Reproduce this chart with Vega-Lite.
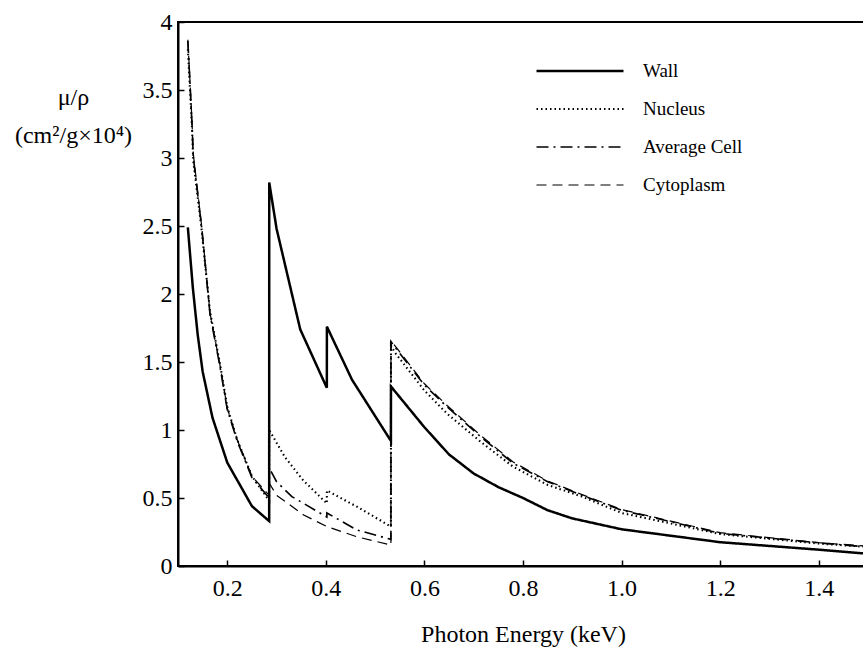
{
  "$schema": "https://vega.github.io/schema/vega-lite/v6.json",
  "autosize": {"type": "none"},
  "padding": {"left": 178, "top": 22, "right": 0, "bottom": 82},
  "width": 690,
  "height": 544,
  "background": "white",
  "config": {
    "view": {"stroke": "black", "strokeWidth": 2},
    "font": "Liberation Serif",
    "axis": {
      "grid": false,
      "domainColor": "black",
      "domainWidth": 2,
      "tickColor": "black",
      "tickWidth": 1.5,
      "tickSize": -6,
      "labelColor": "black",
      "labelFont": "Liberation Serif",
      "labelFontSize": 24,
      "titleColor": "black",
      "titleFont": "Liberation Serif",
      "titleFontSize": 24,
      "titleFontWeight": "normal"
    },
    "legend": {
      "labelFont": "Liberation Serif",
      "labelFontSize": 19,
      "labelColor": "black"
    }
  },
  "data": {
    "values": [
      {"E": 0.12, "mu": 2.49, "tissue": "Wall"},
      {"E": 0.13, "mu": 2.05, "tissue": "Wall"},
      {"E": 0.14, "mu": 1.7, "tissue": "Wall"},
      {"E": 0.15, "mu": 1.43, "tissue": "Wall"},
      {"E": 0.17, "mu": 1.09, "tissue": "Wall"},
      {"E": 0.2, "mu": 0.76, "tissue": "Wall"},
      {"E": 0.25, "mu": 0.44, "tissue": "Wall"},
      {"E": 0.285, "mu": 0.33, "tissue": "Wall"},
      {"E": 0.2851, "mu": 2.82, "tissue": "Wall"},
      {"E": 0.3, "mu": 2.48, "tissue": "Wall"},
      {"E": 0.348, "mu": 1.74, "tissue": "Wall"},
      {"E": 0.402, "mu": 1.31, "tissue": "Wall"},
      {"E": 0.4021, "mu": 1.76, "tissue": "Wall"},
      {"E": 0.453, "mu": 1.37, "tissue": "Wall"},
      {"E": 0.532, "mu": 0.92, "tissue": "Wall"},
      {"E": 0.5321, "mu": 1.32, "tissue": "Wall"},
      {"E": 0.6, "mu": 1.02, "tissue": "Wall"},
      {"E": 0.65, "mu": 0.82, "tissue": "Wall"},
      {"E": 0.7, "mu": 0.68, "tissue": "Wall"},
      {"E": 0.75, "mu": 0.58, "tissue": "Wall"},
      {"E": 0.8, "mu": 0.5, "tissue": "Wall"},
      {"E": 0.85, "mu": 0.41, "tissue": "Wall"},
      {"E": 0.9, "mu": 0.35, "tissue": "Wall"},
      {"E": 1.0, "mu": 0.27, "tissue": "Wall"},
      {"E": 1.2, "mu": 0.175, "tissue": "Wall"},
      {"E": 1.4, "mu": 0.12, "tissue": "Wall"},
      {"E": 1.5, "mu": 0.09, "tissue": "Wall"},

      {"E": 0.12, "mu": 3.8, "tissue": "Nucleus"},
      {"E": 0.128, "mu": 3.25, "tissue": "Nucleus"},
      {"E": 0.131, "mu": 2.98, "tissue": "Nucleus"},
      {"E": 0.148, "mu": 2.47, "tissue": "Nucleus"},
      {"E": 0.165, "mu": 1.87, "tissue": "Nucleus"},
      {"E": 0.185, "mu": 1.49, "tissue": "Nucleus"},
      {"E": 0.2, "mu": 1.17, "tissue": "Nucleus"},
      {"E": 0.22, "mu": 0.93, "tissue": "Nucleus"},
      {"E": 0.25, "mu": 0.66, "tissue": "Nucleus"},
      {"E": 0.285, "mu": 0.48, "tissue": "Nucleus"},
      {"E": 0.2851, "mu": 1.0, "tissue": "Nucleus"},
      {"E": 0.317, "mu": 0.8, "tissue": "Nucleus"},
      {"E": 0.354, "mu": 0.63, "tissue": "Nucleus"},
      {"E": 0.402, "mu": 0.46, "tissue": "Nucleus"},
      {"E": 0.4021, "mu": 0.555, "tissue": "Nucleus"},
      {"E": 0.463, "mu": 0.436, "tissue": "Nucleus"},
      {"E": 0.532, "mu": 0.29, "tissue": "Nucleus"},
      {"E": 0.5321, "mu": 1.62, "tissue": "Nucleus"},
      {"E": 0.54, "mu": 1.57, "tissue": "Nucleus"},
      {"E": 0.6, "mu": 1.29, "tissue": "Nucleus"},
      {"E": 0.646, "mu": 1.12, "tissue": "Nucleus"},
      {"E": 0.714, "mu": 0.914, "tissue": "Nucleus"},
      {"E": 0.78, "mu": 0.73, "tissue": "Nucleus"},
      {"E": 0.85, "mu": 0.596, "tissue": "Nucleus"},
      {"E": 0.92, "mu": 0.51, "tissue": "Nucleus"},
      {"E": 1.0, "mu": 0.39, "tissue": "Nucleus"},
      {"E": 1.2, "mu": 0.235, "tissue": "Nucleus"},
      {"E": 1.4, "mu": 0.165, "tissue": "Nucleus"},
      {"E": 1.5, "mu": 0.14, "tissue": "Nucleus"},

      {"E": 0.12, "mu": 3.86, "tissue": "Average Cell"},
      {"E": 0.128, "mu": 3.28, "tissue": "Average Cell"},
      {"E": 0.131, "mu": 3.01, "tissue": "Average Cell"},
      {"E": 0.148, "mu": 2.49, "tissue": "Average Cell"},
      {"E": 0.165, "mu": 1.85, "tissue": "Average Cell"},
      {"E": 0.185, "mu": 1.47, "tissue": "Average Cell"},
      {"E": 0.2, "mu": 1.15, "tissue": "Average Cell"},
      {"E": 0.22, "mu": 0.92, "tissue": "Average Cell"},
      {"E": 0.25, "mu": 0.65, "tissue": "Average Cell"},
      {"E": 0.285, "mu": 0.5, "tissue": "Average Cell"},
      {"E": 0.2851, "mu": 0.72, "tissue": "Average Cell"},
      {"E": 0.3, "mu": 0.62, "tissue": "Average Cell"},
      {"E": 0.331, "mu": 0.51, "tissue": "Average Cell"},
      {"E": 0.355, "mu": 0.46, "tissue": "Average Cell"},
      {"E": 0.402, "mu": 0.36, "tissue": "Average Cell"},
      {"E": 0.4021, "mu": 0.39, "tissue": "Average Cell"},
      {"E": 0.463, "mu": 0.265, "tissue": "Average Cell"},
      {"E": 0.532, "mu": 0.196, "tissue": "Average Cell"},
      {"E": 0.5321, "mu": 1.65, "tissue": "Average Cell"},
      {"E": 0.54, "mu": 1.61, "tissue": "Average Cell"},
      {"E": 0.6, "mu": 1.33, "tissue": "Average Cell"},
      {"E": 0.646, "mu": 1.17, "tissue": "Average Cell"},
      {"E": 0.714, "mu": 0.951, "tissue": "Average Cell"},
      {"E": 0.78, "mu": 0.755, "tissue": "Average Cell"},
      {"E": 0.85, "mu": 0.62, "tissue": "Average Cell"},
      {"E": 0.92, "mu": 0.52, "tissue": "Average Cell"},
      {"E": 1.0, "mu": 0.41, "tissue": "Average Cell"},
      {"E": 1.2, "mu": 0.24, "tissue": "Average Cell"},
      {"E": 1.4, "mu": 0.17, "tissue": "Average Cell"},
      {"E": 1.5, "mu": 0.14, "tissue": "Average Cell"},

      {"E": 0.12, "mu": 3.87, "tissue": "Cytoplasm"},
      {"E": 0.128, "mu": 3.3, "tissue": "Cytoplasm"},
      {"E": 0.131, "mu": 3.03, "tissue": "Cytoplasm"},
      {"E": 0.148, "mu": 2.5, "tissue": "Cytoplasm"},
      {"E": 0.165, "mu": 1.86, "tissue": "Cytoplasm"},
      {"E": 0.185, "mu": 1.48, "tissue": "Cytoplasm"},
      {"E": 0.2, "mu": 1.16, "tissue": "Cytoplasm"},
      {"E": 0.22, "mu": 0.93, "tissue": "Cytoplasm"},
      {"E": 0.25, "mu": 0.66, "tissue": "Cytoplasm"},
      {"E": 0.285, "mu": 0.52, "tissue": "Cytoplasm"},
      {"E": 0.2851, "mu": 0.61, "tissue": "Cytoplasm"},
      {"E": 0.3, "mu": 0.52, "tissue": "Cytoplasm"},
      {"E": 0.355, "mu": 0.375, "tissue": "Cytoplasm"},
      {"E": 0.402, "mu": 0.29, "tissue": "Cytoplasm"},
      {"E": 0.463, "mu": 0.215, "tissue": "Cytoplasm"},
      {"E": 0.532, "mu": 0.154, "tissue": "Cytoplasm"},
      {"E": 0.5321, "mu": 1.66, "tissue": "Cytoplasm"},
      {"E": 0.54, "mu": 1.62, "tissue": "Cytoplasm"},
      {"E": 0.6, "mu": 1.34, "tissue": "Cytoplasm"},
      {"E": 0.646, "mu": 1.18, "tissue": "Cytoplasm"},
      {"E": 0.714, "mu": 0.96, "tissue": "Cytoplasm"},
      {"E": 0.78, "mu": 0.765, "tissue": "Cytoplasm"},
      {"E": 0.85, "mu": 0.625, "tissue": "Cytoplasm"},
      {"E": 0.92, "mu": 0.525, "tissue": "Cytoplasm"},
      {"E": 1.0, "mu": 0.415, "tissue": "Cytoplasm"},
      {"E": 1.2, "mu": 0.245, "tissue": "Cytoplasm"},
      {"E": 1.4, "mu": 0.172, "tissue": "Cytoplasm"},
      {"E": 1.5, "mu": 0.145, "tissue": "Cytoplasm"}
    ]
  },
  "mark": {"type": "line", "color": "black", "clip": true},
  "encoding": {
    "x": {
      "field": "E",
      "type": "quantitative",
      "scale": {"domain": [0.1, 1.5], "nice": false, "zero": false},
      "axis": {
        "values": [0.2, 0.4, 0.6, 0.8, 1.0, 1.2, 1.4],
        "format": ".1f",
        "labelPadding": 16,
        "title": "Photon Energy (keV)",
        "titlePadding": 22
      }
    },
    "y": {
      "field": "mu",
      "type": "quantitative",
      "scale": {"domain": [0, 4], "nice": false},
      "axis": {
        "values": [0, 0.5, 1, 1.5, 2, 2.5, 3, 3.5, 4],
        "format": "~g",
        "labelPadding": 12,
        "title": ["μ/ρ", "(cm²/g×10⁴)"],
        "titleAngle": 0,
        "titleAlign": "center",
        "titleBaseline": "alphabetic",
        "titleX": -105,
        "titleY": 82,
        "titleLineHeight": 38
      }
    },
    "strokeDash": {
      "field": "tissue",
      "type": "nominal",
      "scale": {
        "domain": ["Wall", "Nucleus", "Average Cell", "Cytoplasm"],
        "range": [[1, 0], [1.5, 3], [12, 5, 2, 5], [10, 6]]
      },
      "legend": {
        "title": null,
        "orient": "none",
        "legendX": 357,
        "legendY": 39,
        "clipHeight": 20,
        "symbolType": "stroke",
        "symbolSize": 7569,
        "symbolStrokeColor": "black",
        "labelOffset": 18,
        "rowPadding": 18
      }
    },
    "strokeWidth": {
      "field": "tissue",
      "type": "nominal",
      "scale": {
        "domain": ["Wall", "Nucleus", "Average Cell", "Cytoplasm"],
        "range": [2.5, 1.2, 2, 1.5]
      },
      "legend": {
        "title": null,
        "orient": "none",
        "legendX": 357,
        "legendY": 39,
        "clipHeight": 20,
        "symbolType": "stroke",
        "symbolSize": 7569,
        "symbolStrokeColor": "black",
        "labelOffset": 18,
        "rowPadding": 18
      }
    }
  }
}
